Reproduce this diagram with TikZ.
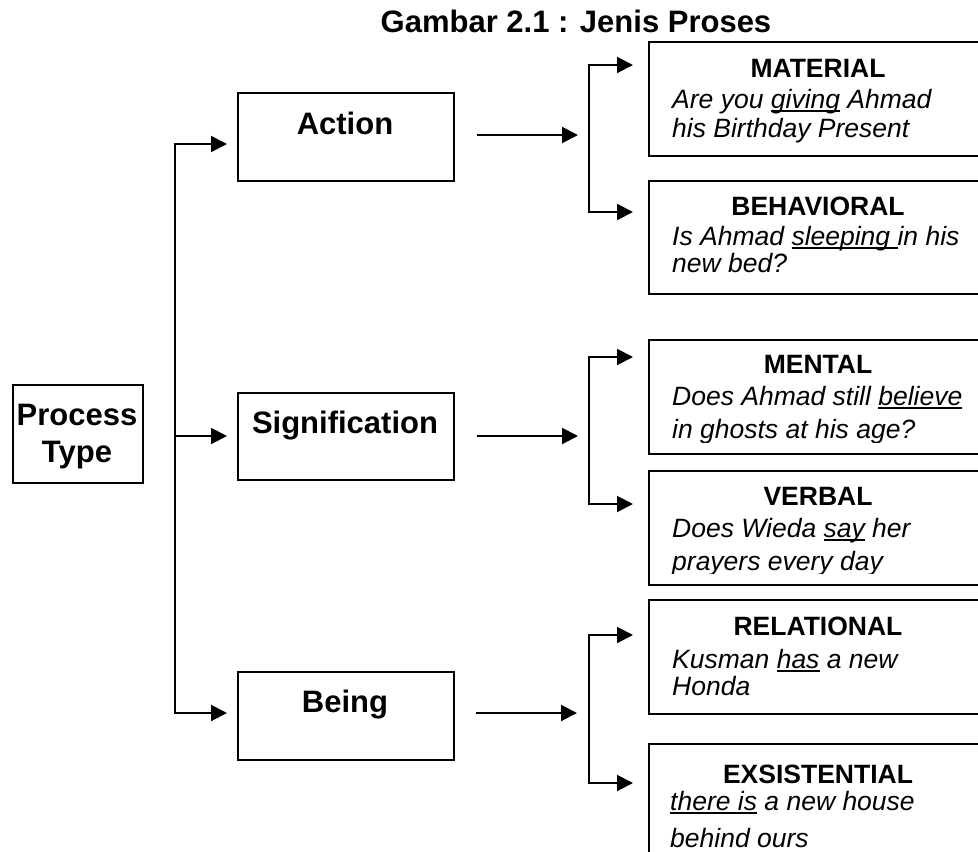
\documentclass[tikz,border=0pt]{standalone}
\usepackage{fontspec}
\setmainfont{Liberation Sans}
\usetikzlibrary{arrows.meta}
\newcommand{\ulw}[1]{\setbox0\hbox{#1}\rlap{\rule[-3.5pt]{\wd0}{1.6pt}}\box0\relax}
\tikzset{
 lbox/.style={draw, line width=1.8pt, minimum width=216pt, minimum height=88pt, anchor=north west, inner sep=0pt},
 rbox/.style={draw, line width=2.2pt, minimum width=340pt, minimum height=114pt, anchor=north west, inner sep=0pt},
 ltext/.style={font=\fontsize{31}{31}\selectfont\bfseries, anchor=base, inner sep=0pt},
 rtitle/.style={font=\fontsize{26.5}{30}\selectfont\bfseries, anchor=base, inner sep=0pt},
 rline/.style={font=\fontsize{26.5}{30}\selectfont\itshape, anchor=base west, inner sep=0pt},
 arr/.style={line width=2pt, -{Triangle[length=16pt,width=16pt]}},
}
\begin{document}
\begin{tikzpicture}[x=1pt,y=-1pt]
\useasboundingbox (0,0) rectangle (978,852);
\clip (0,0) rectangle (978,852);
\fill[white] (0,0) rectangle (978,852);

\node[ltext] (title) at (576,32) {Gambar 2.1 : Jenis Proses};

% process type
\node[lbox, minimum width=130pt, minimum height=98pt] (pt) at (12,384) {};
\node[ltext] (ptA) at (77,425) {Process};
\node[ltext] (ptB) at (77,462) {Type};

% left boxes
\node[lbox] (act) at (237,92) {};
\node[ltext] (actT) at (345,134) {Action};
\node[lbox, minimum height=87pt] (sig) at (237,392) {};
\node[ltext] (sigT) at (345,433) {Signification};
\node[lbox] (being) at (237,671) {};
\node[ltext] (beingT) at (345,712) {Being};

% right boxes
\node[rbox] (mat) at (648,41) {};
\node[rtitle] (matT) at (818,77) {MATERIAL};
\node[rline] (matA) at (672,108) {Are you \ulw{giving} Ahmad};
\node[rline] (matB) at (672,137) {his Birthday Present};

\node[rbox, minimum height=113pt] (beh) at (648,180) {};
\node[rtitle] (behT) at (818,215) {BEHAVIORAL};
\node[rline] (behA) at (672,245) {Is Ahmad \ulw{sleeping\ }in his};
\node[rline] (behB) at (672,272) {new bed?};

\node[rbox] (men) at (648,339) {};
\node[rtitle] (menT) at (818,373) {MENTAL};
\node[rline] (menA) at (672,405) {Does Ahmad still \ulw{believe}};
\begin{scope}
\clip (648,300) rectangle (990,442);
\node[rline] (menB) at (672,438) {in ghosts at his age?};
\end{scope}

\node[rbox] (verb) at (648,470) {};
\node[rtitle] (verbT) at (818,505) {VERBAL};
\node[rline] (verbA) at (672,537) {Does Wieda \ulw{say} her};
\begin{scope}
\clip (648,540) rectangle (990,573);
\node[rline] (verbB) at (672,570) {prayers every day};
\end{scope}

\node[rbox] (rel) at (648,599) {};
\node[rtitle] (relT) at (818,635) {RELATIONAL};
\node[rline] (relA) at (672,668) {Kusman \ulw{has} a new};
\node[rline] (relB) at (672,695) {Honda};

\node[rbox, minimum height=140pt] (exs) at (648,743) {};
\node[rtitle] (exsT) at (818,783) {EXSISTENTIAL};
\node[rline] (exsA) at (670,810) {\ulw{there is} a new house};
\node[rline] (exsB) at (670,847) {behind ours};

% left bracket
\coordinate (m1) at (175,144);
\coordinate (m2) at (175,436);
\coordinate (m3) at (175,713);
\draw[arr, shorten >=10pt] (m3) -- (m1) -- (m1 -| act.west);
\draw[arr, shorten >=10pt] (m1) -- (m3) -- (m3 -| being.west);
\draw[arr, shorten >=10pt] (m2) -- (m2 -| sig.west);

% middle arrows
\coordinate (k1) at (589,135);
\coordinate (k2) at (589,436);
\coordinate (k3) at (589,713);
\draw[arr, shorten <=22pt, shorten >=11pt] (k1 -| act.east) -- (k1);
\draw[arr, shorten <=22pt, shorten >=11pt] (k2 -| sig.east) -- (k2);
\draw[arr, shorten <=21pt, shorten >=12pt] (k3 -| being.east) -- (k3);

% right brackets
\coordinate (a1) at (589,65);
\coordinate (a2) at (589,212);
\draw[arr, shorten >=15pt] (a2) -- (a1) -- (a1 -| mat.west);
\draw[arr, shorten >=15pt] (a1) -- (a2) -- (a2 -| beh.west);
\coordinate (s1) at (589,357);
\coordinate (s2) at (589,504);
\draw[arr, shorten >=15pt] (s2) -- (s1) -- (s1 -| men.west);
\draw[arr, shorten >=15pt] (s1) -- (s2) -- (s2 -| verb.west);
\coordinate (b1) at (589,635);
\coordinate (b2) at (589,783);
\draw[arr, shorten >=15pt] (b2) -- (b1) -- (b1 -| rel.west);
\draw[arr, shorten >=15pt] (b1) -- (b2) -- (b2 -| exs.west);
\end{tikzpicture}
\end{document}
